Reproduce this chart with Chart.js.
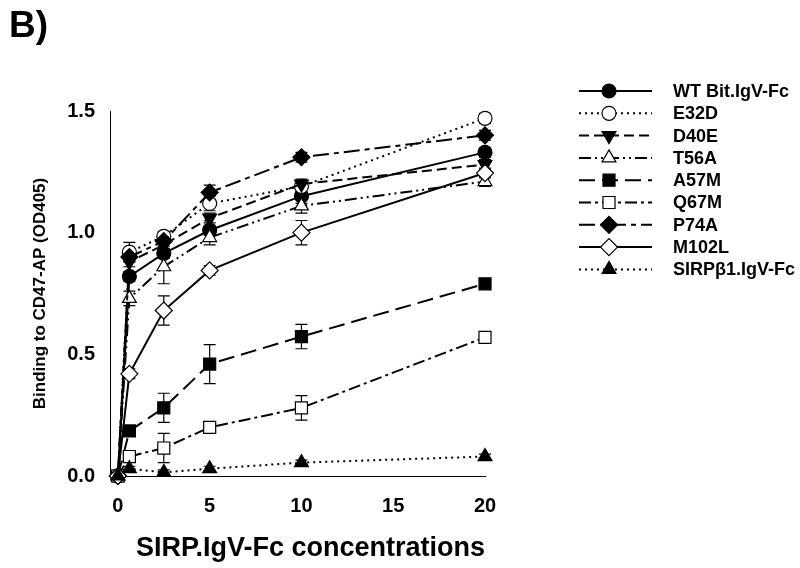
<!DOCTYPE html>
<html><head><meta charset="utf-8">
<script src="https://cdn.jsdelivr.net/npm/chart.js@4/dist/chart.umd.min.js"></script>
<style>html,body{margin:0;padding:0;background:#fff}#wrap{position:relative;width:800px;height:568px}</style>
</head><body><div id="wrap"><canvas id="c" width="800" height="568"></canvas></div>
<script>
const concentrations = [0, 0.625, 2.5, 5, 10, 20];
const xTicks = [0, 5, 10, 15, 20];
const yTicks = [0.0, 0.5, 1.0, 1.5];
const seriesNames = ["WT Bit.IgV-Fc","E32D","D40E","T56A","A57M","Q67M","P74A","M102L","SIRP\u03b21.IgV-Fc"];
const wt     = [0, 0.82, 0.915, 1.01, 1.15, 1.33];
const e32d   = [0, 0.92, 0.985, 1.12, 1.19, 1.47];
const d40e   = [0, 0.88, 0.95, 1.06, 1.20, 1.28];
const t56a   = [0, 0.73, 0.86, 0.98, 1.11, 1.21];
const a57m   = [0, 0.185, 0.28, 0.46, 0.573, 0.79];
const q67m   = [0, 0.08, 0.115, 0.20, 0.28, 0.57];
const p74a   = [0, 0.90, 0.965, 1.165, 1.31, 1.40];
const m102l  = [0, 0.42, 0.68, 0.845, 1.00, 1.245];
const sirpb1 = [0, 0.03, 0.015, 0.03, 0.055, 0.08];
const errWt     = [0, 0.02, 0.02, 0.02, 0.03, 0.02];
const errE32d   = [0, 0.04, 0.02, 0.03, 0.02, 0.02];
const errD40e   = [0, 0.02, 0.02, 0.02, 0.02, 0.02];
const errT56a   = [0, 0.03, 0.07, 0.03, 0.03, 0.02];
const errA57m   = [0, 0.02, 0.06, 0.08, 0.05, 0.02];
const errQ67m   = [0, 0.02, 0.06, 0.02, 0.05, 0.02];
const errP74a   = [0, 0.02, 0.02, 0.03, 0.02, 0.02];
const errM102l  = [0, 0.02, 0.06, 0.02, 0.05, 0.02];
const errSirpb1 = [0, 0.01, 0.01, 0.01, 0.01, 0.01];

const values = [wt,e32d,d40e,t56a,a57m,q67m,p74a,m102l,sirpb1];
const errors = [errWt,errE32d,errD40e,errT56a,errA57m,errQ67m,errP74a,errM102l,errSirpb1];
const styles = [
  {dash:[], shape:'circle', fill:'#000', r:7, rot:0},
  {dash:[2,4], shape:'circle', fill:'#fff', r:7, rot:0},
  {dash:[10,5], shape:'triangle', fill:'#000', r:8, rot:180},
  {dash:[12,4,2,4,2,4], shape:'triangle', fill:'#fff', r:8, rot:0},
  {dash:[16,7], shape:'rect', fill:'#000', r:8.5, rot:0},
  {dash:[12,4,3,4], shape:'rect', fill:'#fff', r:8.5, rot:0},
  {dash:[16,5,5,5], shape:'rectRot', fill:'#000', r:8.5, rot:0},
  {dash:[], shape:'rectRot', fill:'#fff', r:8.5, rot:0},
  {dash:[2,4], shape:'triangle', fill:'#000', r:8, rot:0}
];
const FONT = "'Liberation Sans', Arial, sans-serif";

const datasets = seriesNames.map((n,i)=>({
  label:n,
  data: concentrations.map((x,j)=>({x:x,y:values[i][j]})),
  errs: errors[i],
  borderColor:'#000', borderWidth:2, borderDash:styles[i].dash,
  pointStyle:styles[i].shape, pointRadius:styles[i].r, pointRotation:styles[i].rot,
  pointBackgroundColor:styles[i].fill, pointBorderColor:'#000', pointBorderWidth:1.2,
  pointHoverRadius:styles[i].r, tension:0, fill:false, clip:false,
  order: seriesNames.length - i
}));

const errorBars = {
  id:'errorBars',
  beforeDatasetsDraw(chart){
    const ctx = chart.ctx, xs = chart.scales.x, ys = chart.scales.y;
    ctx.save(); ctx.strokeStyle='#000'; ctx.lineWidth=1.2; ctx.setLineDash([]);
    chart.data.datasets.forEach(ds=>{
      ds.data.forEach((p,j)=>{
        const e = ds.errs[j]; if(!e) return;
        const px = xs.getPixelForValue(p.x);
        const y1 = ys.getPixelForValue(p.y+e), y2 = ys.getPixelForValue(p.y-e);
        ctx.beginPath();
        ctx.moveTo(px,y1); ctx.lineTo(px,y2);
        ctx.moveTo(px-6,y1); ctx.lineTo(px+6,y1);
        ctx.moveTo(px-6,y2); ctx.lineTo(px+6,y2);
        ctx.stroke();
      });
    });
    ctx.restore();
  }
};

const legendPlugin = {
  id:'customLegend',
  afterDraw(chart){
    const ctx = chart.ctx;
    ctx.save();
    chart.data.datasets.forEach((ds,i)=>{
      const y = 91 + i*22.3;
      ctx.strokeStyle='#000'; ctx.lineWidth=2; ctx.setLineDash(ds.borderDash);
      ctx.beginPath(); ctx.moveTo(579,y); ctx.lineTo(652,y); ctx.stroke();
      ctx.setLineDash([]);
      ctx.fillStyle = ds.pointBackgroundColor; ctx.strokeStyle='#000'; ctx.lineWidth=1.2;
      Chart.helpers.drawPoint(ctx,{pointStyle:ds.pointStyle, radius:ds.pointRadius, rotation:ds.pointRotation, borderWidth:1.2}, 609, y);
      ctx.fillStyle='#000'; ctx.font = "bold 18px " + FONT; ctx.textBaseline='middle'; ctx.textAlign='left';
      ctx.fillText(ds.label, 673, y+1);
    });
    ctx.font = "bold 37px " + FONT; ctx.textBaseline='alphabetic';
    ctx.fillText("B)", 9, 37);
    ctx.restore();
  }
};

new Chart(document.getElementById('c'), {
  type:'line',
  data:{datasets:datasets},
  options:{
    responsive:false, animation:false, devicePixelRatio:1,
    layout:{padding:{left:28, right:315, top:111, bottom:0}},
    plugins:{legend:{display:false}, tooltip:{enabled:false}},
    scales:{
      x:{type:'linear', min:-0.43, max:20,
        afterBuildTicks(s){ s.ticks = xTicks.map(v=>({value:v})); },
        afterFit(s){ s.height = 92; },
        grid:{display:false, drawOnChartArea:false, drawTicks:true, tickLength:7, tickColor:'#000'},
        border:{display:true, color:'#000', width:1},
        ticks:{color:'#000', font:{family:FONT, size:20, weight:'bold'}, padding:11, maxRotation:0},
        title:{display:true, align:'end', text:'SIRP.IgV-Fc concentrations', color:'#000', font:{family:FONT, size:27, weight:'bold'}, padding:{top:0,bottom:3}}
      },
      y:{type:'linear', min:0, max:1.5,
        afterBuildTicks(s){ s.ticks = yTicks.map(v=>({value:v})); },
        afterFit(s){ s.width = 82; },
        grid:{display:false, drawOnChartArea:false, drawTicks:true, tickLength:7, tickColor:'#000'},
        border:{display:true, color:'#000', width:1},
        ticks:{color:'#000', font:{family:FONT, size:20, weight:'bold'}, padding:8, callback:v=>v.toFixed(1)},
        title:{display:true, text:'Binding to CD47-AP (OD405)', color:'#000', font:{family:FONT, size:17, weight:'bold'}, padding:{top:2,bottom:0}}
      }
    }
  },
  plugins:[errorBars, legendPlugin]
});
</script></body></html>
